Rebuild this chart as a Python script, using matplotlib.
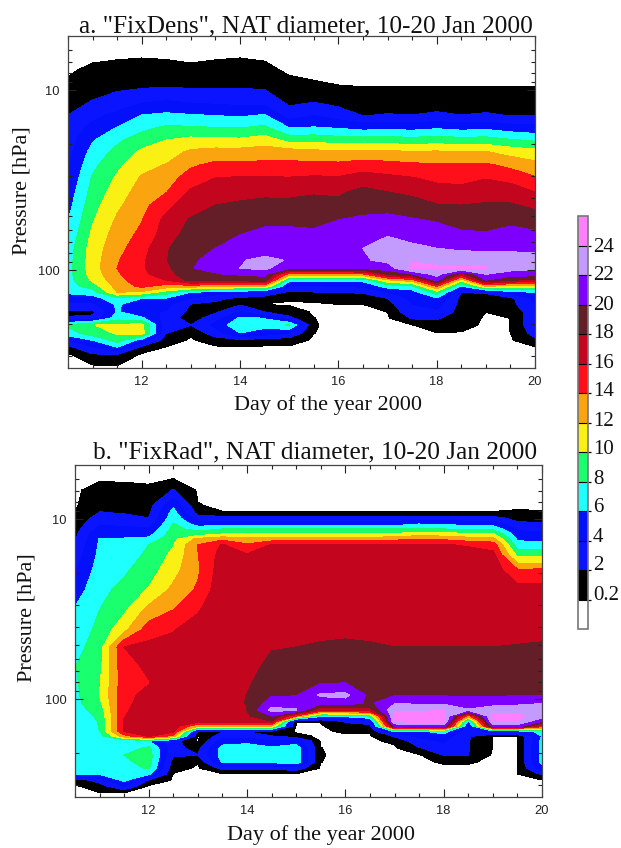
import numpy as np
import matplotlib
matplotlib.use("Agg")
import matplotlib.pyplot as plt
from matplotlib.ticker import FixedLocator, NullFormatter, FormatStrFormatter

days = [10.5, 11, 11.5, 12, 12.5, 13, 13.5, 14, 14.5, 15, 15.5, 16, 16.5, 17, 17.5, 18, 18.5, 19, 19.5, 20]

levels = [0, 0.2, 2, 4, 6, 8, 10, 12, 14, 16, 18, 20, 22, 24, 26]
level_colors = ["#ffffff", "#000000", "#0a14ff", "#0510fa", "#1effff", "#19ff6e", "#faf014", "#faa50f",
                "#ff0f19", "#c3051e", "#641e28", "#7d00ff", "#c39bff", "#ff80ff"]
cbar_ticks = [0.2, 2, 4, 6, 8, 10, 12, 14, 16, 18, 20, 22, 24]
cbar_labels = ["0.2", "2", "4", "6", "8", "10", "12", "14", "16", "18", "20", "22", "24"]

# pressure levels of each table [hPa]
pressure_a = [5.27, 6.64, 7.74, 9.38, 11.36, 13.77, 16.25, 18.95, 22.1, 26.1, 30.8, 36.8, 43.6, 52.7, 63.9, 75.7,
              88.1, 97.5, 105.3, 113.7, 122.8, 132.6, 143.3, 154.7, 171, 184.7, 202, 224.4, 245, 268, 293, 341]
pressure_b = [5.92, 6.9, 8.36, 9.26, 9.87, 10.66, 11.36, 12.11, 12.92, 13.95, 15.85, 19.19, 24.8, 32, 41.4, 51.4,
              64.7, 81.5, 95, 105.2, 115, 124, 132.6, 141, 150.6, 160.6, 171, 187, 204.7, 223.9, 241.7, 261,
              281.8, 304, 333]

# NAT diameter, one line per day
fixdens = [
    [0, 0, 0, .5, 1.2, 2, 2.5, 3, 3.3, 3.7, 4.2, 4.8, 5.3, 5.9, 6.5, 7, 7.2, 7.3, 7.3, 7.2, 7, 6.3, 5, 3.5, 1.4, 2.2, 8.3, 7, 4, 1.4, 0, 0],
    [0, 0, .5, 1.3, 2, 3.4, 4.7, 5.8, 6.7, 7.5, 8.2, 8.7, 9.2, 9.8, 10.4, 10.9, 11, 11, 10.8, 10.3, 9, 7, 5, 3.5, 1.5, 2.5, 9.95, 9, 6, 3.8, 1.9, 0],
    [0, .1, .8, 1.5, 2.7, 4.5, 6.1, 7.6, 8.6, 9.5, 10.3, 10.9, 11.6, 12.3, 12.9, 13.3, 13.8, 14, 13.7, 13.2, 12.7, 12, 7.5, 6.3, 6.2, 7, 10.4, 10.2, 8.8, 6, 2, .1],
    [0, .2, .9, 1.6, 3.5, 6, 7.5, 9, 10.4, 11.4, 12.2, 12.9, 13.3, 13.9, 14.5, 15.2, 15.6, 15.7, 15.6, 15.3, 14.5, 11.5, 6, 4.5, 4.5, 6.3, 10.6, 10.8, 5, 1.5, 0, 0],
    [0, .1, .9, 1.7, 3.9, 6.4, 8.4, 10, 11, 12.1, 13, 13.9, 15.4, 16.6, 17, 17.8, 17.9, 17.5, 16.9, 16, 13, 9, 5.8, 4.5, 3.8, 3, 2.5, 2, 1, .1, 0, 0],
    [0, 0, .5, 1.6, 3.5, 6.1, 8.3, 10.6, 12.4, 13.7, 15, 16.3, 17.2, 18.2, 18.9, 19.3, 19.7, 19.95, 19.7, 18.6, 13, 6, 3.9, 1.9, 1.4, 1, 2, .4, 0, 0, 0, 0],
    [0, .1, .8, 1.6, 3.3, 5.9, 8.1, 10.5, 12.8, 14.5, 16, 17, 18, 18.8, 19.4, 20, 20.6, 20.3, 19.9, 18.5, 12, 5, 2.5, 1.5, 1.7, 3, 4.5, 3, 1, 0, 0, 0],
    [0, .2, .9, 1.7, 3.1, 5.7, 8, 10.4, 12.8, 14.5, 16.2, 17.4, 18.3, 19.2, 20, 20.9, 21.9, 22, 20.2, 18.6, 12, 4.5, 1.5, 1.7, 4, 6.3, 7.5, 5.9, 1.5, 0, 0, 0],
    [0, .1, .5, 1.6, 3, 6.1, 8.5, 11, 13, 14.5, 16.2, 17.6, 18.5, 19.6, 20.5, 21.4, 22.3, 22.5, 20.5, 19, 12, 3.5, 1, .1, 2, 5.9, 6.6, 5, 1, 0, 0, 0],
    [0, 0, 0, .6, 1.4, 3, 6, 9.3, 13, 14.5, 16.1, 17.5, 18.6, 19.7, 20.4, 20.8, 21.9, 20.2, 13, 6.5, 3.5, 1.6, .4, 0, 1, 2.4, 8.2, 3.7, .9, 0, 0, 0],
    [0, 0, 0, .3, 1.7, 3.9, 6.2, 9.4, 12.6, 14.6, 16.3, 17.8, 18.7, 19.5, 20.4, 20.8, 21, 20.2, 13, 6.5, 3.7, 1.9, .6, 0, 0, .21, .25, .21, 0, 0, 0, 0],
    [0, 0, 0, .2, 1.2, 3, 5.9, 9, 12.4, 14.5, 16.2, 17.6, 18.7, 20, 20.8, 21.3, 21.4, 20, 13, 6.3, 4, 2, 1, .2, 0, 0, 0, 0, 0, 0, 0, 0],
    [0, 0, 0, .1, 1, 1.9, 5.4, 8.9, 12.5, 15, 16.9, 18.6, 19.4, 20.3, 21, 22, 21.8, 20.2, 13.5, 6.5, 4.3, 2.2, 1, .2, 0, 0, 0, 0, 0, 0, 0, 0],
    [0, 0, 0, .1, 1, 2.1, 5.6, 9, 12.4, 14.7, 16.5, 18, 19.2, 20.6, 21.9, 22.9, 22.4, 21, 18, 11.5, 6.8, 4, 2, 1.2, .2, 0, 0, 0, 0, 0, 0, 0],
    [0, 0, 0, .1, 1, 2, 5.4, 8.8, 12.2, 14.4, 16.1, 17.6, 18.8, 20.2, 21.4, 22.4, 23.9, 24.3, 19.8, 13, 7.5, 5, 4.5, 4, 3.5, 2.2, .1, 0, 0, 0, 0, 0],
    [0, 0, 0, .1, 1, 2.3, 5.8, 9, 12.3, 14.2, 15.5, 16.9, 18.1, 19.8, 21, 22, 23.8, 24.1, 22.8, 20.5, 14, 9, 5.7, 4.8, 3.5, 2.2, 1.1, .1, 0, 0, 0, 0],
    [0, 0, 0, .1, 1, 2, 5.4, 8.8, 12.1, 14.2, 15.3, 16.8, 18, 19.4, 20.3, 21.6, 23.5, 24.1, 17, 10.5, 5.7, 2, 1.4, 1.3, 1.2, 1, .6, .1, 0, 0, 0, 0],
    [0, 0, 0, .1, 1, 2.2, 5.6, 8.9, 12.1, 14.3, 15.9, 17.2, 18.2, 19.3, 20.2, 21.5, 23.5, 24.1, 22, 20, 12, 2.2, 1.2, .8, .2, 0, 0, 0, 0, 0, 0, 0],
    [0, 0, 0, .1, 1, 1.9, 5, 8.2, 11.3, 13.5, 15.4, 17, 18.2, 19.5, 20.8, 21.6, 23, 22.8, 21, 18, 11, 5, 1.5, 1.3, .3, .21, .21, .2, 0, 0, 0, 0],
    [0, 0, 0, .1, 1, 1.8, 4.7, 7.7, 10.8, 12.6, 14.2, 16, 17.6, 19, 20.5, 21.6, 22.7, 22.4, 20.8, 17.5, 11, 6, 4.5, 4, 3.5, 3.5, 3.5, 2.7, 1.5, .1, 0, 0],
]

fixrad = [
    [0, 0, 0, .2, .5, .9, 1.2, 1.5, 1.8, 2.2, 2.8, 3.8, 5, 6.2, 6.8, 7.3, 7.9, 7.7, 7.5, 7.4, 7.2, 7.1, 7, 7, 7, 7, 7, 7, 7, 6.9, 6.8, 6.2, .8, 0, 0],
    [0, .7, 1.5, 2.1, 2.8, 3.7, 4.6, 5.6, 6.1, 6.3, 6.5, 6.9, 7.4, 8, 8.5, 9, 9.4, 9.8, 10, 9.5, 8.8, 8.3, 8.1, 8.05, 8, 6.9, 6.8, 6.8, 6.8, 6.8, 6.6, 6.1, 2.8, 1.1, .1],
    [0, .6, 1.4, 1.9, 2.6, 3.6, 4.5, 5.6, 6.1, 6.4, 7, 7.7, 8.6, 9.6, 11.5, 16, 15.5, 15.3, 15.4, 15.5, 15.7, 15.9, 16.1, 16.2, 16.1, 13, 6, 6.8, 8, 7.5, 7.2, 6.9, 6.6, 4, 0],
    [0, .4, 1.2, 1.6, 2, 3.1, 4.2, 5.3, 6.5, 8, 8.4, 9, 10.2, 12.7, 15.1, 16.6, 16.3, 15.9, 16.6, 16.9, 17.1, 17.2, 17.2, 17.1, 16.7, 16.1, 5.9, 8.4, 8.9, 8.8, 8.2, 6.3, 1.7, 0, 0],
    [.1, 2.1, 5.6, 6.8, 7.3, 8.1, 8.6, 9.1, 9.5, 9.9, 10.5, 11.3, 12.5, 14, 15.9, 16.7, 17, 17.2, 17.4, 17.5, 17.5, 17.5, 17.4, 17.2, 16.7, 13, 2.8, 2.5, 2.2, 1.2, .7, .1, 0, 0, 0],
    [0, 0, .25, 1.3, 3, 5, 7.3, 9, 12.5, 14.1, 13.9, 13.7, 14.3, 15.8, 17, 17.3, 17.4, 17.4, 17.4, 17.4, 17.4, 17.3, 17, 12, 2, 0, 0, 1.4, 2, .3, 0, 0, 0, 0, 0],
    [0, 0, 0, .25, 2.8, 5.2, 8, 10, 13.5, 16.2, 16.8, 17.2, 17.5, 17.6, 17.7, 17.8, 17.8, 17.8, 17.8, 17.8, 17.7, 17.6, 17.2, 12, 1.8, 3, 5, 6.7, 6.8, 6.3, 2.5, 0, 0, 0, 0],
    [0, 0, 0, .25, 2.8, 5.2, 8, 10, 12.7, 14.3, 16.2, 17.1, 17.4, 17.6, 17.7, 17.7, 17.7, 17.85, 18.01, 18.02, 17.99, 17.7, 17.3, 12, 1.8, 3, 5.4, 6.9, 6.9, 6.4, 2.5, 0, 0, 0, 0],
    [0, 0, 0, .25, 2.8, 5.2, 8, 10, 13, 16.2, 16.9, 17.2, 17.5, 17.6, 17.8, 17.95, 18.2, 18.6, 19.8, 20.9, 22.6, 20, 17.9, 12, 1.8, 2, 4, 6.3, 6.8, 6.3, 2.5, 0, 0, 0, 0],
    [0, 0, 0, .25, 2.8, 5.2, 8, 10, 13, 16.2, 16.9, 17.2, 17.5, 17.7, 17.85, 18, 18.7, 19.3, 19.8, 21.5, 22.1, 14, .3, 0, 0, .5, 5, 7, 7.2, 7, 3, 0, 0, 0, 0],
    [0, 0, 0, .25, 2.8, 5.2, 8, 10, 13, 16.2, 17, 17.3, 17.5, 17.7, 17.9, 18.05, 19, 19.95, 22.3, 20.5, 16, 6.5, .3, 0, 0, 0, 0, .21, .25, .21, 0, 0, 0, 0, 0],
    [0, 0, 0, .25, 2.8, 5.2, 8, 10, 13, 16.2, 17, 17.3, 17.5, 17.7, 17.9, 18.1, 19.1, 20, 22.5, 21, 16.5, 6.5, 2.2, 1.4, .4, 0, 0, 0, 0, 0, 0, 0, 0, 0, 0],
    [0, 0, 0, .25, 2.8, 5.2, 8, 10, 13, 16.2, 17, 17.3, 17.5, 17.7, 17.9, 18.05, 18.5, 19, 19.4, 19.6, 17, 8, 3.2, 1.4, .4, 0, 0, 0, 0, 0, 0, 0, 0, 0, 0],
    [0, 0, 0, .25, 2.7, 5.1, 8, 10.3, 13.5, 16.1, 17, 17.3, 17.5, 17.7, 17.9, 18, 18.5, 19.2, 19.8, 21.8, 23.8, 24.5, 24.3, 20, 6.5, 2.2, .4, 0, 0, 0, 0, 0, 0, 0, 0],
    [0, 0, 0, .25, 2.7, 6, 8, 11, 14, 16.2, 17, 17.3, 17.5, 17.7, 17.9, 18, 18.5, 19.1, 19.8, 21.6, 23.8, 24.5, 24.8, 21, 5.7, 4.4, 3.3, 1.8, 0, 0, 0, 0, 0, 0, 0],
    [0, 0, 0, .25, 2.7, 5.8, 8, 10.8, 13.7, 16.2, 17, 17.3, 17.5, 17.7, 17.9, 18, 18.4, 19, 19.8, 21.5, 24, 24.6, 24.5, 21, 7, 5, 4.2, 3.2, 2, .3, 0, 0, 0, 0, 0],
    [0, 0, 0, .25, 2.7, 5.2, 7.7, 10.3, 13, 15.8, 17, 17.3, 17.5, 17.7, 17.9, 18, 18.4, 19, 19.7, 21.3, 22.1, 13, 5.5, 3, 2.3, 2.2, 2.1, 2.1, 2, .3, 0, 0, 0, 0, 0],
    [0, 0, 0, .25, 2.7, 5.2, 7.5, 10.3, 12.8, 15.2, 16.6, 17.2, 17.5, 17.7, 17.9, 18, 18.4, 19, 19.7, 21, 23.3, 24.5, 24.4, 21, 5, .15, .15, .15, 0, 0, 0, 0, 0, 0, 0],
    [0, 0, 0, .35, 1.2, 2.6, 3.7, 4.7, 5.6, 7, 9.5, 14.2, 16.9, 17.2, 17.5, 18.1, 18.7, 19.3, 19.9, 21.4, 23.4, 24.4, 24.1, 21, 5, .15, .15, .15, .15, .15, .15, .15, 0, 0, 0],
    [0, 0, 0, .3, 1.1, 2.2, 3.4, 4.4, 5.4, 6.8, 9.4, 14.4, 16.8, 17.1, 17.6, 18.2, 18.8, 19.4, 19.9, 21.8, 24, 23, 20, 15, 6.5, 6.1, 6.5, 6.7, 6.7, 6.5, 5, 2.2, .1, 0, 0],
]

W, H = 621, 848
serif = "Liberation Serif"
sans = "Liberation Sans"


def box(left, top, right, bottom):
    # pixel box to figure fractions
    return [left / W, 1 - bottom / H, (right - left) / W, (bottom - top) / H]


def draw_panel(ax, table, pressure):
    nat = np.array(table).T
    cf = ax.contourf(days, pressure, nat, levels=levels, colors=level_colors)
    cf.set_edgecolor("face")
    cf.set_linewidth(0.25)
    ax.set_yscale("log")
    ax.set_xlim(10.5, 20)
    ax.set_ylim(350, 5)
    ax.xaxis.set_major_locator(FixedLocator([12, 14, 16, 18, 20]))
    ax.xaxis.set_minor_locator(FixedLocator(np.arange(10.5, 20.1, 0.5)))
    ax.yaxis.set_major_locator(FixedLocator([10, 100]))
    ax.yaxis.set_minor_locator(FixedLocator([6, 7, 8, 9, 20, 30, 40, 50, 60, 70, 80, 90, 200, 300]))
    ax.yaxis.set_major_formatter(FormatStrFormatter("%d"))
    ax.yaxis.set_minor_formatter(NullFormatter())
    ax.tick_params(which="both", direction="in", top=True, right=True, width=0.8, color="#222222")
    ax.tick_params(which="major", length=6, labelsize=9.3, pad=6)
    ax.tick_params(which="minor", length=3)
    for tick_label in ax.get_xticklabels() + ax.get_yticklabels():
        tick_label.set_family(sans)
        tick_label.set_color("#222222")
    for spine in ax.spines.values():
        spine.set_linewidth(0.9)
        spine.set_color("#444444")
    return cf


def label(x, y, text, size, rotation=0, ha="center"):
    fig.text(x / W, 1 - y / H, text, family=serif, fontsize=size, rotation=rotation,
             ha=ha, va="center", color="#111111")


fig = plt.figure(figsize=(W / 100, H / 100), dpi=100)

ax_a = fig.add_axes(box(68, 36, 535, 368))
cf = draw_panel(ax_a, fixdens, pressure_a)
ax_b = fig.add_axes(box(75, 465, 542, 797))
draw_panel(ax_b, fixrad, pressure_b)

label(306, 26, 'a. "FixDens", NAT diameter, 10-20 Jan 2000', 18.2)
label(315, 452, 'b. "FixRad", NAT diameter, 10-20 Jan 2000', 18.2)
label(328, 405, "Day of the year 2000", 16)
label(321, 835, "Day of the year 2000", 16)
label(22, 191, "Pressure [hPa]", 16, rotation=90)
label(27, 618, "Pressure [hPa]", 16, rotation=90)

cax = fig.add_axes(box(578, 216, 588, 629))
cbar = fig.colorbar(cf, cax=cax, spacing="uniform", ticks=cbar_ticks, drawedges=True)
cbar.ax.set_yticklabels([])
cbar.ax.tick_params(length=2, width=0.9)
cbar.ax.minorticks_off()
cbar.outline.set_edgecolor("#777777")
cbar.outline.set_linewidth(1.2)
cbar.dividers.set_color("#000000")
cbar.dividers.set_linewidth(0.8)

# the labels drift slightly from the ticks in the original
for i, text in enumerate(cbar_labels):
    label(593, 595 - i * 29, text, 15, ha="left")

fig.savefig("out.png", dpi=100)
